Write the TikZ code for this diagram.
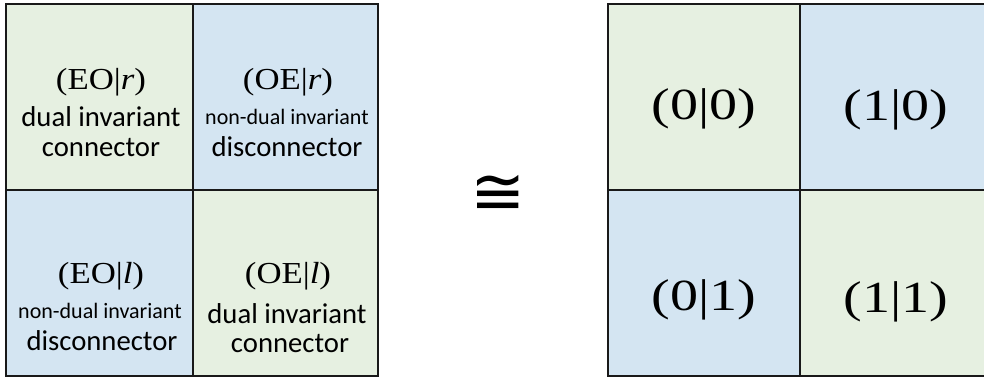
\documentclass[tikz,border=0pt]{standalone}
\usepackage{fontspec}
\setmainfont{Carlito}
\newfontfamily\camfont[FakeStretch=1.14]{Liberation Serif}
\newfontfamily\digfont[FakeStretch=1.26]{Liberation Serif}
\newfontfamily\symfont{DejaVu Sans}
\definecolor{cellgreen}{RGB}{230,240,225}
\definecolor{cellblue}{RGB}{212,229,242}
\definecolor{gridline}{RGB}{25,25,25}
\tikzset{
  biglab/.style={anchor=base, inner sep=0pt, font=\fontsize{28.7}{34}\selectfont},
  smalllab/.style={anchor=base, inner sep=0pt, font=\fontsize{22}{26}\selectfont},
  parlab/.style={anchor=base, inner sep=0pt, font=\camfont\fontsize{30.5}{36}\selectfont},
  diglab/.style={anchor=base, inner sep=0pt, font=\digfont\fontsize{44.5}{52}\selectfont},
  innerline/.style={draw=gridline, line width=1.3pt},
  outerline/.style={draw=gridline, line width=2.2pt},
}
\begin{document}
\begin{tikzpicture}[x=1pt,y=-1pt]
\useasboundingbox (0,0) rectangle (984,378);
% left grid
\fill[cellgreen] (6,4) rectangle (193,190);
\fill[cellblue] (193,4) rectangle (378,190);
\fill[cellblue] (6,190) rectangle (193,376);
\fill[cellgreen] (193,190) rectangle (378,376);
\draw[innerline] (193,4) -- (193,376);
\draw[innerline] (6,190) -- (378,190);
\draw[outerline] (6,4) rectangle (378,376);
% right grid
\fill[cellgreen] (608,4) rectangle (800,190);
\fill[cellblue] (800,4) rectangle (992,190);
\fill[cellblue] (608,190) rectangle (800,376);
\fill[cellgreen] (800,190) rectangle (992,376);
\draw[innerline] (800,4) -- (800,376);
\draw[innerline] (608,190) -- (992,190);
\draw[outerline] (608,4) rectangle (992,376);
% left grid texts
\node[parlab] (tlp) at (101,89) {(EO|\textit{r})};
\node[biglab] (tla) at (101,126) {dual invariant};
\node[biglab] (tlb) at (101,156) {connector};
\node[parlab] (trp) at (288,89) {(OE|\textit{r})};
\node[smalllab] (tra) at (287,124) {non-dual invariant};
\node[biglab] (trb) at (287,156) {disconnector};
\node[parlab] (blp) at (101,283) {(EO|\textit{l})};
\node[smalllab] (bla) at (100,318) {non-dual invariant};
\node[biglab] (blb) at (102,350) {disconnector};
\node[parlab] (brp) at (288,283) {(OE|\textit{l})};
\node[biglab] (bra) at (287,323) {dual invariant};
\node[biglab] (brb) at (290,352) {connector};
% congruence
\node[inner sep=0pt, font=\symfont\fontsize{66}{76}\selectfont] (cong) at (498,195) {≅};
% right grid texts
\node[diglab] (r00) at (704,119.5) {(0|0)};
\node[diglab] (r10) at (896,120) {(1|0)};
\node[diglab] (r01) at (704,310) {(0|1)};
\node[diglab] (r11) at (896,312.5) {(1|1)};
\end{tikzpicture}
\end{document}
